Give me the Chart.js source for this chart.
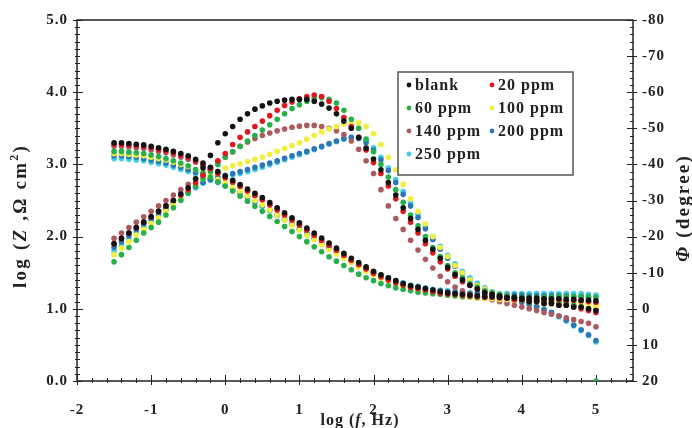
<!DOCTYPE html>
<html>
<head>
<meta charset="utf-8">
<script src="https://cdn.jsdelivr.net/npm/chart.js@4.4.1/dist/chart.umd.min.js"></script>
<style>
  body { margin: 0; background: #fff; }
  #wrap { width: 692px; height: 428px; position: relative; }
</style>
</head>
<body>
<div id="wrap"><canvas id="chart"></canvas></div>
<script>
// log(f / Hz) of each measured point
const logF = [
  -1.5,-1.4,-1.3,-1.2,-1.1,-1.0,-0.9,-0.8,-0.7,-0.6,
  -0.5,-0.4,-0.3,-0.2,-0.1,0.0,0.1,0.2,0.3,0.4,
  0.5,0.6,0.7,0.8,0.9,1.0,1.1,1.2,1.3,1.4,
  1.5,1.6,1.7,1.8,1.9,2.0,2.1,2.2,2.3,2.4,
  2.5,2.6,2.7,2.8,2.9,3.0,3.1,3.2,3.3,3.4,
  3.5,3.6,3.7,3.8,3.9,4.0,4.1,4.2,4.3,4.4,
  4.5,4.6,4.7,4.8,4.9,5.0
];

const xTicks = [-2, -1, 0, 1, 2, 3, 4, 5];

const seriesNames = ['blank', '20 ppm', '60 ppm', '100 ppm', '140 ppm', '200 ppm', '250 ppm'];
const seriesColors = ['#141414', '#e3171f', '#25b04a', '#f3ee3a', '#ad5a5e', '#2b77b8', '#3fcbea'];

// log |Z| (left axis)
const zBlank = [
  3.30,3.30,3.29,3.28,3.27,3.25,3.23,3.21,3.18,3.15,
  3.12,3.07,3.02,2.96,2.90,2.84,2.78,2.72,2.66,2.60,
  2.54,2.47,2.40,2.33,2.26,2.19,2.12,2.05,1.98,1.91,
  1.84,1.77,1.70,1.64,1.58,1.52,1.47,1.43,1.39,1.35,
  1.32,1.30,1.28,1.26,1.24,1.22,1.21,1.20,1.19,1.18,
  1.17,1.17,1.16,1.16,1.16,1.15,1.15,1.15,1.14,1.14,
  1.14,1.13,1.13,1.12,1.12,1.11
];
const z20 = [
  3.28,3.28,3.27,3.26,3.25,3.23,3.21,3.19,3.16,3.13,
  3.10,3.05,3.00,2.94,2.88,2.82,2.76,2.70,2.63,2.57,
  2.51,2.44,2.37,2.30,2.23,2.16,2.09,2.02,1.95,1.88,
  1.81,1.74,1.67,1.61,1.55,1.49,1.44,1.40,1.36,1.33,
  1.30,1.28,1.26,1.24,1.22,1.21,1.20,1.19,1.18,1.17,
  1.16,1.16,1.15,1.15,1.15,1.14,1.14,1.14,1.13,1.13,
  1.13,1.12,1.12,1.11,1.10,1.09
];
const z60 = [
  3.18,3.18,3.17,3.16,3.15,3.13,3.11,3.08,3.05,3.02,
  2.98,2.93,2.88,2.82,2.76,2.70,2.63,2.56,2.49,2.42,
  2.35,2.28,2.21,2.14,2.07,2.00,1.93,1.86,1.79,1.72,
  1.66,1.60,1.54,1.48,1.43,1.39,1.35,1.32,1.29,1.27,
  1.25,1.23,1.22,1.21,1.20,1.19,1.18,1.17,1.17,1.16,
  1.16,1.16,1.16,1.16,1.16,1.16,1.16,1.16,1.16,1.16,
  1.17,1.17,1.17,1.17,1.17,1.16
];
const z100 = [
  3.15,3.15,3.14,3.13,3.12,3.10,3.08,3.06,3.03,3.00,
  2.97,2.93,2.89,2.84,2.79,2.74,2.68,2.62,2.56,2.50,
  2.44,2.37,2.30,2.23,2.16,2.09,2.02,1.96,1.89,1.82,
  1.76,1.70,1.64,1.58,1.52,1.47,1.42,1.38,1.34,1.31,
  1.28,1.26,1.24,1.22,1.20,1.19,1.18,1.17,1.16,1.15,
  1.14,1.14,1.13,1.13,1.12,1.12,1.12,1.11,1.11,1.11,
  1.10,1.10,1.10,1.09,1.08,1.06
];
const z140 = [
  3.25,3.25,3.24,3.23,3.22,3.20,3.18,3.16,3.13,3.10,
  3.07,3.03,2.98,2.93,2.87,2.81,2.75,2.69,2.63,2.57,
  2.51,2.45,2.38,2.31,2.24,2.17,2.10,2.03,1.96,1.89,
  1.82,1.75,1.68,1.62,1.56,1.50,1.45,1.41,1.37,1.33,
  1.30,1.27,1.25,1.23,1.21,1.19,1.18,1.17,1.16,1.15,
  1.15,1.14,1.14,1.13,1.13,1.13,1.12,1.12,1.12,1.11,
  1.11,1.11,1.10,1.10,1.09,1.08
];
const z200 = [
  3.12,3.12,3.11,3.10,3.08,3.06,3.04,3.02,2.99,2.96,
  2.93,2.89,2.85,2.81,2.76,2.71,2.66,2.61,2.55,2.49,
  2.43,2.37,2.30,2.24,2.17,2.10,2.04,1.97,1.91,1.84,
  1.78,1.72,1.66,1.60,1.55,1.50,1.46,1.42,1.38,1.35,
  1.32,1.30,1.28,1.26,1.25,1.24,1.23,1.22,1.21,1.21,
  1.20,1.20,1.19,1.19,1.19,1.19,1.18,1.18,1.18,1.18,
  1.18,1.18,1.17,1.17,1.16,1.00
];
const z250 = [
  3.08,3.08,3.07,3.06,3.05,3.03,3.01,2.99,2.96,2.93,
  2.90,2.87,2.83,2.79,2.75,2.70,2.65,2.60,2.54,2.48,
  2.42,2.36,2.30,2.23,2.17,2.10,2.04,1.98,1.91,1.85,
  1.79,1.73,1.67,1.61,1.56,1.51,1.47,1.43,1.39,1.36,
  1.33,1.31,1.29,1.27,1.26,1.25,1.24,1.23,1.22,1.22,
  1.21,1.21,1.21,1.21,1.21,1.21,1.21,1.21,1.21,1.21,
  1.21,1.21,1.21,1.21,1.20,1.19
];

// phase angle in degrees (right axis)
const phBlank = [
  -18,-19.5,-21,-22.5,-24,-25.5,-27,-28.5,-30,-31.8,
  -33.5,-36,-39,-42.5,-46,-48.5,-50.5,-52.5,-54,-55.3,
  -56.2,-57,-57.5,-57.8,-58,-58,-58,-57.5,-56.7,-55.6,
  -54,-52,-50,-47.5,-44.5,-41.5,-38.5,-35,-31.5,-28,
  -25,-22,-19,-16.5,-14,-11.5,-9.5,-8,-6.5,-5.5,
  -4.5,-4,-3.5,-3,-3,-2.5,-2,-2,-1.5,-1.5,
  -1,-1,-0.5,-0.5,0,0.5
];
const ph20 = [
  -18,-19.5,-21,-22.5,-24,-25.5,-27,-28.5,-30,-31.5,
  -33,-35,-37,-39,-41,-43,-45.5,-47.5,-49,-50.5,
  -52,-53.5,-55,-56.3,-57.3,-58.2,-58.8,-59.2,-58.8,-57.5,
  -55.5,-53,-50.5,-47.5,-44,-40.5,-37.5,-34,-30.5,-27,
  -24,-21,-18,-15.5,-13,-11,-9,-7.5,-6.5,-5.5,
  -4.5,-4,-3.5,-3,-2.5,-2.5,-2,-2,-1.5,-1.5,
  -1,-1,-0.5,0,0.5,1
];
const ph60 = [
  -13,-15,-17,-19,-21,-22.5,-24,-26,-28,-30,
  -32,-34,-36,-38,-40,-42,-43.5,-45,-46.5,-48,
  -49.5,-51,-52.5,-54,-55.5,-56.5,-57.5,-58.3,-58.5,-58,
  -57,-55,-52.5,-50,-47,-43.5,-40,-36.5,-33,-29.5,
  -26,-23,-20,-17,-14.5,-12,-10,-8.5,-7,-6,
  -5,-4.5,-4,-3.5,-3,-3,-2.5,-2.5,-2,-2,
  -1.5,-1.5,-1,-0.5,0,20
];
const ph100 = [
  -15,-16.8,-18.6,-20.4,-22,-23.6,-25.2,-27,-28.8,-30.6,
  -32.4,-34.2,-36,-37,-38,-39,-39.6,-40.2,-40.8,-41.4,
  -42,-42.8,-43.6,-44.4,-45.2,-46,-47,-48,-49,-49.8,
  -50.5,-51.2,-51.6,-51.5,-50.5,-48.5,-45.5,-42,-38.5,-34.5,
  -30.5,-27,-23.5,-20,-17,-14.5,-12,-10,-8,-6.5,
  -5.5,-4.5,-4,-3.5,-3,-2.5,-2,-2,-1.5,-1.5,
  -1,-1,-1,-1,-0.5,-0.5
];
const ph140 = [
  -19.5,-21,-22.5,-24,-25.5,-27,-28.5,-30,-31.5,-33,
  -34.5,-36,-37.5,-39,-40.5,-42,-43.5,-45,-46.2,-47.2,
  -48,-48.7,-49.3,-49.8,-50.3,-50.6,-50.8,-50.8,-50.5,-50,
  -49.3,-48.3,-46.5,-44.2,-41,-37.5,-33,-28.5,-25,-22,
  -19,-16.3,-13.7,-11.3,-9,-7.5,-6,-5,-4,-3.5,
  -3,-2.5,-2,-1.5,-1,-0.5,0,0.5,1,1.5,
  2,2.5,3,3.5,4,5
];
const ph200 = [
  -17,-18.6,-20.2,-21.8,-23.3,-24.8,-26.3,-27.8,-29.3,-30.8,
  -32.3,-33.8,-35,-35.8,-36.4,-37,-37.5,-38,-38.6,-39.2,
  -39.8,-40.4,-41,-41.7,-42.4,-43,-43.6,-44.3,-45,-45.8,
  -46.5,-47.2,-47.5,-47.2,-46,-44,-41.3,-38.3,-35,-31.7,
  -28.5,-25.3,-22.2,-19.2,-16.5,-14,-11.8,-9.8,-8,-6.6,
  -5.4,-4.4,-3.6,-3,-2.4,-1.8,-1.2,-0.6,0.2,1,
  2,3.2,4.5,5.8,7.2,8.8
];
const ph250 = [
  -16,-17.6,-19.2,-20.8,-22.4,-24,-25.6,-27.2,-28.8,-30.4,
  -32,-33.5,-34.8,-35.6,-36.2,-36.7,-37.1,-37.5,-38,-38.6,
  -39.2,-39.9,-40.6,-41.3,-42,-42.7,-43.4,-44.1,-44.8,-45.6,
  -46.3,-47,-47.4,-47.3,-46.4,-44.6,-42,-39,-35.8,-32.5,
  -29.3,-26.1,-23,-20,-17.3,-14.8,-12.5,-10.4,-8.6,-7.1,
  -5.8,-4.7,-3.8,-3.1,-2.5,-1.9,-1.3,-0.6,0.2,1.1,
  2.2,3.4,4.7,6,7.4,9.2
];

const zSeries = [zBlank, z20, z60, z100, z140, z200, z250];
const phSeries = [phBlank, ph20, ph60, ph100, ph140, ph200, ph250];

const FONT = '"Liberation Serif", "Times New Roman", serif';
const INK = '#222';

const datasets = [];
seriesNames.forEach((name, s) => {
  const common = {
    showLine: false,
    pointRadius: 2.8,
    pointBorderWidth: 0,
    pointBackgroundColor: seriesColors[s],
    pointBorderColor: seriesColors[s],
    backgroundColor: seriesColors[s]
  };
  datasets.push(Object.assign({
    label: name,
    yAxisID: 'y',
    data: logF.map((x, i) => ({ x: x, y: zSeries[s][i] }))
  }, common));
  datasets.push(Object.assign({
    label: name + ' (phase)',
    yAxisID: 'y2',
    data: logF.map((x, i) => ({ x: x, y: phSeries[s][i] }))
  }, common));
});

function drawRich(ctx, parts, cx, cy, angle, size, spacing) {
  ctx.save();
  ctx.translate(cx, cy);
  ctx.rotate(angle);
  ctx.letterSpacing = spacing + 'px';
  ctx.fillStyle = INK;
  ctx.textBaseline = 'alphabetic';
  ctx.textAlign = 'left';
  const fontFor = p => (p.i ? 'italic ' : '') + 'bold ' + (p.sup ? Math.round(size * 0.62) : size) + 'px ' + FONT;
  let total = 0;
  parts.forEach(p => { ctx.font = fontFor(p); total += ctx.measureText(p.t).width; });
  let x = -total / 2;
  parts.forEach(p => {
    ctx.font = fontFor(p);
    ctx.fillText(p.t, x, size * 0.35 - (p.sup ? size * 0.42 : 0));
    x += ctx.measureText(p.t).width;
  });
  ctx.restore();
}

const framePlugin = {
  id: 'frame',
  beforeDraw(chart) {
    chart.ctx.letterSpacing = '1px';
  },
  beforeDatasetsDraw(chart) {
    const { ctx, chartArea: a, scales } = chart;
    ctx.save();
    ctx.strokeStyle = INK;
    ctx.lineWidth = 1.5;
    ctx.strokeRect(a.left, a.top, a.right - a.left, a.bottom - a.top);
    ctx.lineWidth = 1;
    ctx.beginPath();
    // x axis ticks, minor every 0.2
    for (let k = -10; k <= 27; k++) {
      const px = Math.round(scales.x.getPixelForValue(k / 5)) + 0.5;
      const major = k % 5 === 0;
      ctx.moveTo(px, a.bottom - (major ? 6 : 3));
      ctx.lineTo(px, a.bottom + (major ? 4 : 2));
    }
    // left axis ticks, minor every 0.1
    for (let k = 0; k <= 50; k++) {
      const py = Math.round(scales.y.getPixelForValue(k / 10)) + 0.5;
      const major = k % 10 === 0;
      ctx.moveTo(a.left - (major ? 4 : 2), py);
      ctx.lineTo(a.left + (major ? 6 : 3), py);
    }
    // right axis ticks, minor every 2 degrees
    for (let k = -40; k <= 10; k++) {
      const py = Math.round(scales.y2.getPixelForValue(k * 2)) + 0.5;
      const major = k % 5 === 0;
      ctx.moveTo(a.right - (major ? 6 : 3), py);
      ctx.lineTo(a.right + (major ? 4 : 1), py);
    }
    ctx.stroke();
    ctx.restore();
  },
  afterDraw(chart) {
    const { ctx } = chart;
    // axis titles
    drawRich(ctx, [
      { t: 'log (' }, { t: 'Z', i: true }, { t: ' ,Ω cm' }, { t: '2', sup: true }, { t: ')' }
    ], 19, 216, -Math.PI / 2, 19, 2.2);
    drawRich(ctx, [
      { t: 'Φ', i: true }, { t: ' (degree)' }
    ], 682, 208, -Math.PI / 2, 19, 2.2);
    drawRich(ctx, [
      { t: 'log (' }, { t: 'f', i: true }, { t: ', Hz)' }
    ], 360, 419, 0, 16, 1);

    // legend, two columns in a framed box
    const bx = 398, by = 72, bw = 175, bh = 103;
    ctx.save();
    ctx.fillStyle = '#fff';
    ctx.fillRect(bx, by, bw, bh);
    ctx.strokeStyle = '#555';
    ctx.lineWidth = 1.5;
    ctx.strokeRect(bx, by, bw, bh);
    ctx.letterSpacing = '1px';
    ctx.font = 'bold 16px ' + FONT;
    ctx.textBaseline = 'middle';
    ctx.textAlign = 'left';
    seriesNames.forEach((name, s) => {
      const row = Math.floor(s / 2), col = s % 2;
      const mx = bx + 11 + col * 83;
      const my = by + 13 + row * 23;
      ctx.fillStyle = seriesColors[s];
      ctx.beginPath();
      ctx.arc(mx, my, 2.4, 0, Math.PI * 2);
      ctx.fill();
      ctx.fillStyle = INK;
      ctx.fillText(name, mx + 6, my + 1);
    });
    ctx.restore();
  }
};

const tickFont = { family: FONT, size: 15, weight: 'bold' };

new Chart(document.getElementById('chart'), {
  type: 'scatter',
  data: { datasets: datasets },
  options: {
    responsive: true,
    maintainAspectRatio: false,
    animation: false,
    events: [],
    layout: { padding: { top: 20, left: 0, right: 0, bottom: 0 } },
    plugins: {
      legend: { display: false },
      tooltip: { enabled: false }
    },
    scales: {
      x: {
        type: 'linear',
        min: -2,
        max: 5.5,
        afterBuildTicks: scale => { scale.ticks = xTicks.map(v => ({ value: v })); },
        afterFit: scale => { scale.height = 47; },
        grid: { display: false, drawTicks: false },
        border: { display: false },
        ticks: { font: tickFont, color: INK, padding: 20, maxRotation: 0, autoSkip: false }
      },
      y: {
        position: 'left',
        min: 0,
        max: 5,
        afterFit: scale => { scale.width = 77; },
        grid: { display: false, drawTicks: false },
        border: { display: false },
        ticks: { font: tickFont, color: INK, padding: 9, stepSize: 1, callback: v => v.toFixed(1) }
      },
      y2: {
        position: 'right',
        min: -80,
        max: 20,
        reverse: true,
        afterFit: scale => { scale.width = 59; },
        grid: { display: false, drawTicks: false },
        border: { display: false },
        ticks: { font: tickFont, color: INK, padding: 9, stepSize: 10, callback: v => String(v) }
      }
    }
  },
  plugins: [framePlugin]
});
</script>
</body>
</html>
